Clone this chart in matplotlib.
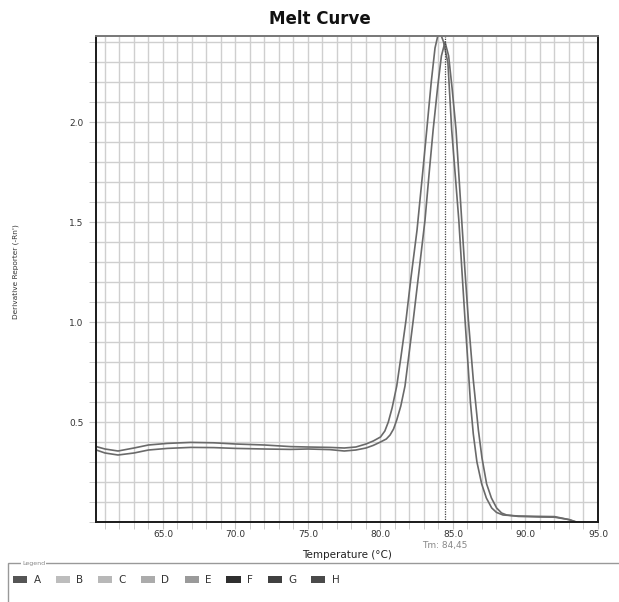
import numpy as np
import matplotlib
matplotlib.use("Agg")
import matplotlib.pyplot as plt
from matplotlib.patches import Patch, Rectangle
from matplotlib.ticker import MultipleLocator

# melt curve readings (temperature in C, derivative reporter -Rn')
temp_1 = [60.4, 61.0, 61.9, 63.0, 64.0, 65.3, 66.9, 68.5, 70.0, 72.0, 73.8, 75.0,
          76.5, 77.5, 78.3, 79.0, 79.5, 80.0, 80.3, 80.54, 80.8, 81.12, 81.4, 81.76,
          82.1, 82.52, 82.9, 83.19, 83.5, 83.76, 83.95, 84.1, 84.35, 84.65, 84.91,
          85.15, 85.4, 85.63, 85.83, 86.06, 86.2, 86.4, 86.65, 86.98, 87.3,
          87.67, 88.0, 88.45, 89.5, 91.0, 92.0, 93.0, 93.5]
deriv_1 = [0.377, 0.365, 0.355, 0.37, 0.385, 0.393, 0.398, 0.396, 0.39, 0.385, 0.377, 0.375,
           0.373, 0.37, 0.375, 0.39, 0.405, 0.425, 0.455, 0.5, 0.57, 0.68, 0.82, 1.01,
           1.22, 1.46, 1.74, 1.96, 2.2, 2.37, 2.43, 2.45, 2.40, 2.295, 1.96,
           1.74, 1.51, 1.24, 1.01, 0.76, 0.6, 0.44, 0.3, 0.19, 0.12,
           0.07, 0.048, 0.035, 0.03, 0.028, 0.027, 0.012, 0.0]

temp_2 = [60.4, 61.0, 61.9, 63.0, 64.0, 65.3, 66.9, 68.5, 70.0, 72.0, 73.8, 75.0,
          76.5, 77.5, 78.3, 79.0, 79.5, 80.0, 80.4, 80.66, 80.9, 81.12, 81.4, 81.69,
          82.26, 82.65, 83.07, 83.35, 83.63, 83.95, 84.2, 84.45, 84.7, 84.95, 85.21,
          85.4, 85.6, 85.83, 86.06, 86.4, 86.75, 87.0, 87.32, 87.65,
          88.01, 88.35, 88.7, 89.5, 91.0, 92.0, 93.0, 93.5]
deriv_2 = [0.36, 0.345, 0.335, 0.345, 0.36, 0.368, 0.373, 0.372, 0.368, 0.365, 0.363, 0.365,
           0.362, 0.355, 0.36, 0.37, 0.383, 0.4, 0.415, 0.435, 0.465, 0.51, 0.58, 0.68,
           1.01, 1.25, 1.51, 1.74, 1.96, 2.18, 2.33, 2.40, 2.33, 2.16, 1.96,
           1.74, 1.51, 1.25, 1.01, 0.71, 0.46, 0.32, 0.19, 0.12,
           0.07, 0.045, 0.035, 0.028, 0.025, 0.024, 0.012, 0.0]

tm_value = 84.45
x_ticks = [65, 70, 75, 80, 85, 90, 95]
y_ticks = [0.5, 1.0, 1.5, 2.0]

wells = ["A", "B", "C", "D", "E", "F", "G", "H"]
well_colors = ["#555555", "#bdbdbd", "#b8b8b8", "#ababab", "#9a9a9a", "#2e2e2e", "#404040", "#4a4a4a"]

fig = plt.figure(figsize=(6.19, 6.02), dpi=100)
W, H = 619, 602
ax = fig.add_axes([96 / W, 1 - 522 / H, (598 - 96) / W, (522 - 36) / H])

ax.plot(temp_1, deriv_1, color="#6a6a6a", lw=1.2)
ax.plot(temp_2, deriv_2, color="#6a6a6a", lw=1.2)
ax.axvline(tm_value, color="#444444", lw=0.9, ls=(0, (1, 1)))

ax.set_xlim(60.38, 95)
ax.set_ylim(0, 2.43)
ax.set_xticks(x_ticks)
ax.set_xticklabels(["%.1f" % v for v in x_ticks])
ax.set_yticks(y_ticks)
ax.set_yticklabels(["%.1f" % v for v in y_ticks])
ax.xaxis.set_minor_locator(MultipleLocator(1))
ax.yaxis.set_minor_locator(MultipleLocator(0.1))
ax.grid(which="both", color="#cfcfcf", lw=1.0)
ax.set_axisbelow(True)
ax.tick_params(which="both", direction="out", length=5, color="#c4c4c4",
               labelsize=6.5, labelcolor="#333333")
ax.tick_params(axis="x", pad=1)
ax.tick_params(axis="y", pad=4)

for side in ["left", "bottom", "right"]:
    ax.spines[side].set_color("#1a1a1a")
    ax.spines[side].set_linewidth(1.4)
ax.spines["top"].set_color("#777777")
ax.spines["top"].set_linewidth(1.4)

ax.text(tm_value, -0.118, "Tm: 84,45", transform=ax.transData, ha="center", va="center",
        fontsize=6.5, color="#888888", clip_on=False)

fig.text(320 / W, 1 - 19 / H, "Melt Curve", ha="center", va="center",
         fontsize=12, fontweight="bold", color="#111111")
fig.text(347 / W, 1 - 555 / H, "Temperature (°C)", ha="center", va="center",
         fontsize=7.5, color="#222222")
fig.text(16 / W, 1 - 272 / H, "Derivative Reporter (-Rn')", ha="center", va="center",
         rotation=90, fontsize=5.3, color="#333333")

# legend panel at the bottom
panel_top = 1 - 563 / H
fig.add_artist(Rectangle((8 / W, -0.1), 1.0, panel_top + 0.1,
                         transform=fig.transFigure, fill=False, ec="#999999", lw=1.0))
fig.text(22 / W, panel_top, "Legend", ha="left", va="center", fontsize=4.5,
         color="#888888", bbox=dict(fc="white", ec="none", pad=0.6))
handles = [Patch(fc=c, ec="none") for c in well_colors]
fig.legend(handles, wells, loc="upper left", bbox_to_anchor=(6 / W, 1 - 568 / H),
           ncol=8, frameon=False, fontsize=7.5, handlelength=1.35, handleheight=0.75,
           handletextpad=0.6, columnspacing=1.45, borderpad=0.2, labelcolor="#333333")

fig.savefig("out.png", dpi=100)
